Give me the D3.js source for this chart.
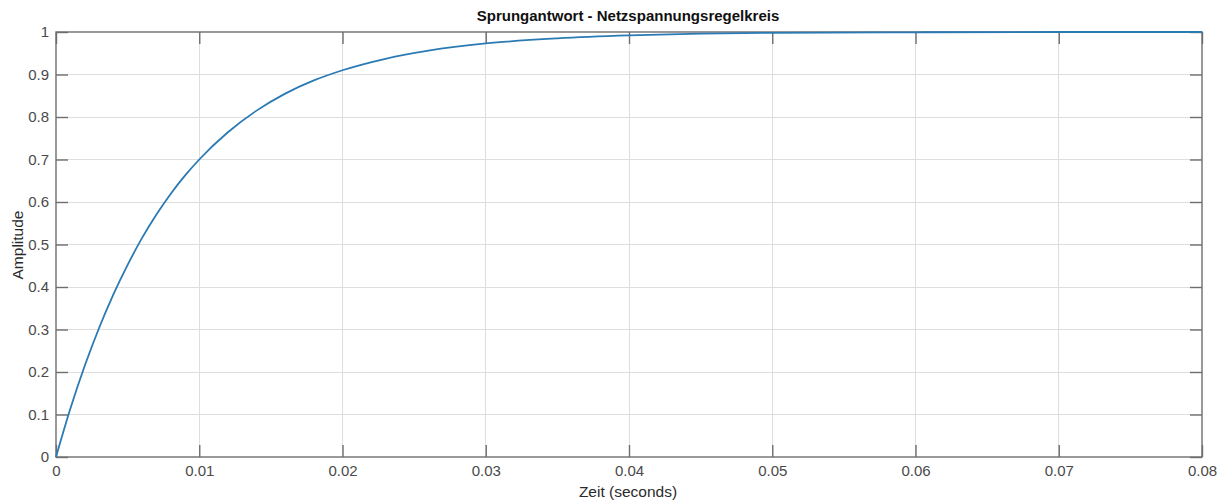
<!DOCTYPE html>
<html><head><meta charset="utf-8">
<script src="https://cdn.jsdelivr.net/npm/d3@7"></script>
<style>html,body{margin:0;padding:0;background:#fff;}svg{display:block;}</style>
</head><body>
<svg id="c" width="1230" height="502"></svg>
<script>
const timeValues = [0, 0.001, 0.002, 0.003, 0.004, 0.005, 0.006, 0.007, 0.008, 0.009, 0.010, 0.012, 0.014, 0.016, 0.018, 0.020, 0.023, 0.026, 0.030, 0.035, 0.040, 0.045, 0.050, 0.060, 0.070, 0.080];
const amplitudeValues = [0, 0.1135, 0.214, 0.303, 0.382, 0.452, 0.515, 0.570, 0.619, 0.662, 0.700, 0.764, 0.815, 0.855, 0.886, 0.910, 0.937, 0.956, 0.973, 0.985, 0.992, 0.996, 0.998, 0.9993, 1.0, 1.0];
const xTicks = [0, 0.01, 0.02, 0.03, 0.04, 0.05, 0.06, 0.07, 0.08];
const yTicks = [0, 0.1, 0.2, 0.3, 0.4, 0.5, 0.6, 0.7, 0.8, 0.9, 1];
const titleText = "Sprungantwort - Netzspannungsregelkreis";
const xLabel = "Zeit (seconds)";
const yLabel = "Amplitude";

const L = 56, R = 1202, T = 32, B = 457;
const svg = d3.select("#c");
const x = d3.scaleLinear().domain([0, 0.08]).range([L, R]);
const y = d3.scaleLinear().domain([0, 1]).range([B, T]);
const fmt = d => d === 0 ? "0" : String(+d.toFixed(2));
const font = "'Liberation Sans', Arial, Helvetica, sans-serif";
const axisCol = "#6e6e6e";
const gridCol = "#dedede";
const tickLen = 12;

// grid
svg.append("g").selectAll("line").data(xTicks.slice(1, -1)).join("line")
  .attr("x1", d => x(d)).attr("x2", d => x(d)).attr("y1", T).attr("y2", B)
  .attr("stroke", gridCol).attr("stroke-width", 1).attr("shape-rendering", "crispEdges");
svg.append("g").selectAll("line").data(yTicks.slice(1, -1)).join("line")
  .attr("y1", d => y(d)).attr("y2", d => y(d)).attr("x1", L).attr("x2", R)
  .attr("stroke", gridCol).attr("stroke-width", 1).attr("shape-rendering", "crispEdges");

function styleAxis(g) {
  g.select(".domain").remove();
  g.selectAll(".tick line").attr("stroke", axisCol).attr("stroke-width", 1.4);
  g.selectAll(".tick text").attr("fill", "#4a4a4a").attr("font-family", font).attr("font-size", "15px");
}
svg.append("g").attr("transform", `translate(0,${B})`)
  .call(d3.axisBottom(x).tickValues(xTicks).tickFormat(fmt).tickSizeInner(-tickLen).tickSizeOuter(0).tickPadding(8))
  .call(styleAxis);
svg.append("g").attr("transform", `translate(0,${T})`)
  .call(d3.axisTop(x).tickValues(xTicks).tickFormat("").tickSizeInner(-tickLen).tickSizeOuter(0))
  .call(styleAxis);
svg.append("g").attr("transform", `translate(${L},0)`)
  .call(d3.axisLeft(y).tickValues(yTicks).tickFormat(fmt).tickSizeInner(-tickLen).tickSizeOuter(0).tickPadding(7))
  .call(styleAxis);
svg.append("g").attr("transform", `translate(${R},0)`)
  .call(d3.axisRight(y).tickValues(yTicks).tickFormat("").tickSizeInner(-tickLen).tickSizeOuter(0))
  .call(styleAxis);

svg.append("rect").attr("x", L).attr("y", T).attr("width", R - L).attr("height", B - T)
  .attr("fill", "none").attr("stroke", axisCol).attr("stroke-width", 1.4);

const data = timeValues.map((t, i) => [t, amplitudeValues[i]]);
svg.append("path").datum(data)
  .attr("d", d3.line().x(d => x(d[0])).y(d => y(d[1])).curve(d3.curveMonotoneX))
  .attr("fill", "none").attr("stroke", "#2a7ab3").attr("stroke-width", 1.8);

svg.append("text").attr("x", 628).attr("y", 21).attr("text-anchor", "middle")
  .attr("font-family", font).attr("font-weight", "bold").attr("font-size", "15px").attr("fill", "#111")
  .text(titleText);
svg.append("text").attr("x", 628).attr("y", 497).attr("text-anchor", "middle")
  .attr("font-family", font).attr("font-size", "15.5px").attr("fill", "#2a2a2a").text(xLabel);
svg.append("text").attr("transform", "translate(23,245) rotate(-90)").attr("text-anchor", "middle")
  .attr("font-family", font).attr("font-size", "15.5px").attr("fill", "#2a2a2a").text(yLabel);
</script>
</body></html>
